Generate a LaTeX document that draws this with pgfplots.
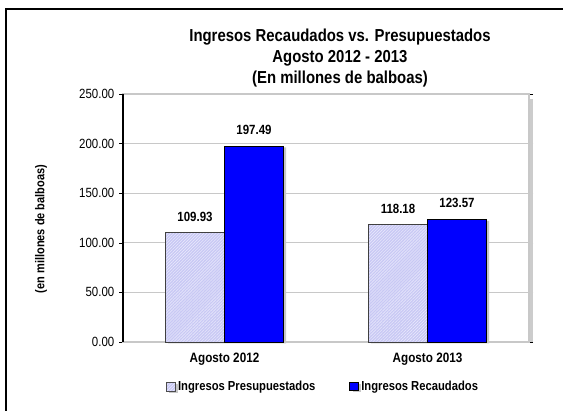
\documentclass[border=0pt]{standalone}
\usepackage{fontspec}
\setmainfont{Liberation Sans}[FakeStretch=0.86]
\usepackage{pgfplots}
\pgfplotsset{compat=1.18}
\usetikzlibrary{patterns.meta}

\definecolor{presup}{RGB}{200,200,244}
\definecolor{hatch}{RGB}{232,232,252}
\definecolor{recaud}{RGB}{0,0,255}
\definecolor{gridgray}{RGB}{200,200,200}

\begin{document}
\begin{tikzpicture}
% pixels of the reference: 1px = 0.75pt, y grows downward
\begin{scope}[x=0.75pt,y=-0.75pt]
\useasboundingbox (0,0) rectangle (563,410);
\draw[line width=1.6pt] (6,412) -- (6,9) -- (565,9);
\node[font=\bfseries\fontsize{13}{15.8}\selectfont, align=center] at (340,58)
  {Ingresos Recaudados vs. Presupuestados\\Agosto 2012 - 2013\\(En millones de balboas)};
\node[font=\bfseries\fontsize{9.6}{10}\selectfont, rotate=90] at (41,229) {(en millones de balboas)};
\end{scope}

\begin{axis}[
    at={(92.25pt,-256.5pt)}, anchor=south west,
    scale only axis,
    width=304.5pt, height=186pt,
    ybar=0pt,
    bar width=44.25pt,
    xmin=-0.5, xmax=1.5,
    ymin=0, ymax=250,
    xtick={0,1},
    xticklabels={Agosto 2012, Agosto 2013},
    x tick label style={font=\bfseries\fontsize{10.2}{11}\selectfont, yshift=-2pt},
    major x tick style={draw=none},
    ytick={0,50,100,150,200,250},
    yticklabel style={font=\fontsize{10}{11}\selectfont},
    /pgf/number format/assume math mode=true,
    yticklabel={\pgfmathprintnumber[fixed,fixed zerofill,precision=2]{\tick}},
    tick align=outside,
    major tick length=3pt,
    ytick style={black},
    ymajorgrids,
    grid style={gridgray, line width=0.6pt},
    axis line style={gridgray, line width=0.8pt},
    nodes near coords,
    nodes near coords style={font=\bfseries\fontsize{10}{11}\selectfont, yshift=5pt,
      /pgf/number format/.cd, fixed, fixed zerofill, precision=2},
    legend style={at={(0.105,-0.181)}, anchor=west, draw=none, fill=none,
      legend columns=2, font=\bfseries\fontsize{9.8}{10}\selectfont,
      /tikz/every even column/.append style={column sep=24pt},
      inner sep=0pt, nodes={inner sep=1.5pt}},
    clip=false,
]
\draw[black!20, line width=2pt] ([xshift=1.8pt]rel axis cs:1,0.98) -- ([xshift=1.8pt]rel axis cs:1,0);
\addplot[fill=presup, draw=black!75, line width=0.7pt,
  preaction={draw=none, fill=black!22, transform canvas={xshift=2pt, yshift=-1pt}},
  postaction={pattern={Lines[angle=45, distance=1.6pt, line width=0.45pt]}, pattern color=hatch},
  legend image code/.code={\draw[fill=presup, draw=black!70, line width=1pt] (0pt,-3.3pt) rectangle (6.6pt,3.3pt);}]
  coordinates {(0,109.93) (1,118.18)};
\addplot[fill=recaud, draw=black, line width=0.7pt,
  preaction={draw=none, fill=black!22, transform canvas={xshift=2pt, yshift=-1pt}},
  legend image code/.code={\draw[fill=recaud, draw=black, line width=0.8pt] (0pt,-3pt) rectangle (6.6pt,3pt);}]
  coordinates {(0,197.49) (1,123.57)};
\legend{Ingresos Presupuestados, Ingresos Recaudados}
\draw[black, line width=0.8pt] (rel axis cs:0,0) -- (rel axis cs:0,1);
\end{axis}
\end{tikzpicture}
\end{document}
